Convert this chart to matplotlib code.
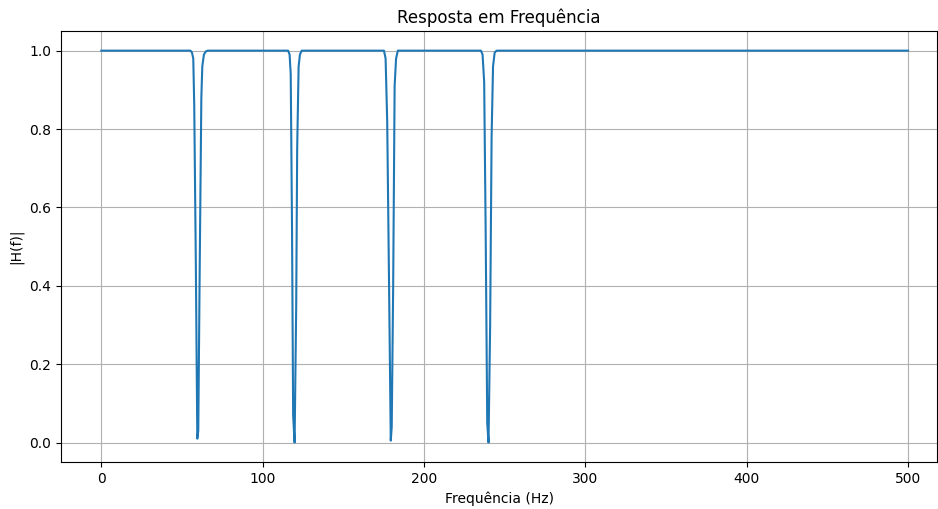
import matplotlib
matplotlib.use("Agg")
import matplotlib.pyplot as plt

# magnitude of the cascaded notch filter (60 Hz hum + harmonics)
freq_hz = [
    0, 55.3, 56.2, 57.0, 57.6, 58.6, 59.5, 60.1, 61.0, 62.0, 62.6, 63.6, 64.8, 66.0,
    115.8, 116.7, 117.4, 118.2, 118.9, 119.8, 120.8, 121.4, 122.3, 123.1, 124.2,
    175.2, 176.2, 177.2, 178.3, 179.4, 180.0, 180.9, 181.8, 182.7, 183.8,
    235.3, 236.3, 237.3, 238.2, 239.2, 240.0, 241.0, 241.9, 242.8, 243.8, 245.0,
    500,
]
mag = [
    1.0, 1.0, 0.995, 0.98, 0.86, 0.45, 0.01, 0.03, 0.45, 0.88, 0.96, 0.99, 0.998, 1.0,
    1.0, 0.99, 0.94, 0.55, 0.07, 0.0, 0.35, 0.75, 0.96, 0.99, 1.0,
    1.0, 0.98, 0.82, 0.42, 0.005, 0.04, 0.4, 0.91, 0.98, 1.0,
    1.0, 0.99, 0.92, 0.55, 0.05, 0.0, 0.3, 0.78, 0.96, 0.995, 1.0,
    1.0,
]

fig = plt.figure(figsize=(9.38, 5.09), dpi=100)
ax = fig.add_axes([0.065, 0.092, 0.934, 0.847])
ax.plot(freq_hz, mag, color="#1f77b4", linewidth=1.5)
ax.set_xlim(-25, 518)
ax.set_ylim(-0.05, 1.05)
ax.set_title("Resposta em Frequência")
ax.set_xlabel("Frequência (Hz)")
ax.set_ylabel("|H(f)|")
ax.grid(True)

fig.savefig("out.png", dpi=100)
